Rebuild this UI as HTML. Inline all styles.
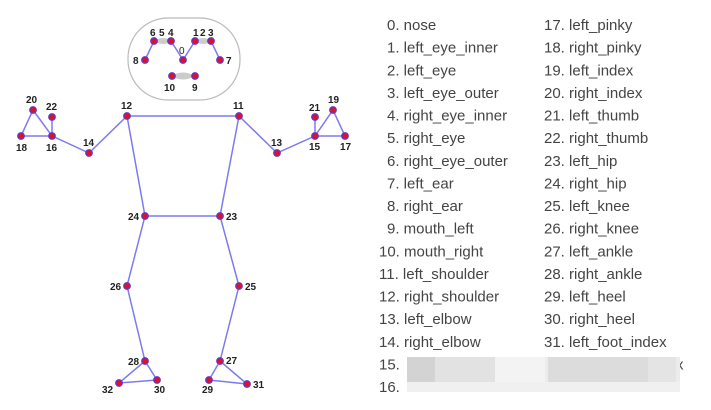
<!DOCTYPE html>
<html><head><style>
html,body{margin:0;padding:0;background:#fff;}
svg{display:block;}
text{font-family:"Liberation Sans",sans-serif;}
.n{font-size:10px;font-weight:bold;fill:#222;}
.l{font-size:15px;fill:#444;}
</style></head><body>
<svg width="711" height="410" viewBox="0 0 711 410" xmlns="http://www.w3.org/2000/svg">
<rect x="128" y="18" width="112" height="82" rx="40" ry="40" fill="#fff" stroke="#bbb" stroke-width="1.2"/>
<g stroke="#7b7bf0" stroke-width="1.5" fill="none">
<polyline points="145,60 154,41 171,41 183,60 195,41 211,41 220,60"/>
<line x1="172" y1="76" x2="195" y2="76"/>
<line x1="127" y1="116" x2="239" y2="116"/>
<polyline points="127,116 89,153 52,136 21,136 33,110 52,136 52,117"/>
<polyline points="239,116 277,153 315,136 345,136 333,110 315,136 315,117"/>
<polyline points="127,116 145,216 220,216 239,116"/>
<polyline points="145,216 127,286 145,361 157,380 119,383 145,361"/>
<polyline points="220,216 239,286 220,361 209,380 247,384 220,361"/>
</g>
<g fill="#ccc"><ellipse cx="163" cy="41" rx="7" ry="3"/><ellipse cx="203" cy="41" rx="7" ry="3"/><ellipse cx="183" cy="76" rx="9" ry="3.5"/></g>
<g fill="#e0102a" stroke="#5a3ad0" stroke-width="1.2">
<circle cx="154" cy="41" r="3.3"/><circle cx="171" cy="41" r="3.3"/><circle cx="195" cy="41" r="3.3"/><circle cx="211" cy="41" r="3.3"/>
<circle cx="183" cy="60" r="3.3"/><circle cx="145" cy="60" r="3.3"/><circle cx="220" cy="60" r="3.3"/>
<circle cx="172" cy="76" r="3.3"/><circle cx="195" cy="76" r="3.3"/>
<circle cx="127" cy="116" r="3.3"/><circle cx="239" cy="116" r="3.3"/>
<circle cx="89" cy="153" r="3.3"/><circle cx="277" cy="153" r="3.3"/>
<circle cx="52" cy="136" r="3.3"/><circle cx="21" cy="136" r="3.3"/><circle cx="33" cy="110" r="3.3"/><circle cx="52" cy="117" r="3.3"/>
<circle cx="315" cy="136" r="3.3"/><circle cx="345" cy="136" r="3.3"/><circle cx="333" cy="110" r="3.3"/><circle cx="315" cy="117" r="3.3"/>
<circle cx="145" cy="216" r="3.3"/><circle cx="220" cy="216" r="3.3"/>
<circle cx="127" cy="286" r="3.3"/><circle cx="239" cy="286" r="3.3"/>
<circle cx="145" cy="361" r="3.3"/><circle cx="220" cy="361" r="3.3"/>
<circle cx="157" cy="380" r="3.3"/><circle cx="119" cy="383" r="3.3"/>
<circle cx="209" cy="380" r="3.3"/><circle cx="247" cy="384" r="3.3"/>
</g>
<g class="n">
<text x="150" y="36">6</text><text x="159" y="36">5</text><text x="168" y="36">4</text>
<text x="193" y="36">1</text><text x="200" y="36">2</text><text x="208" y="36">3</text>
<text x="179" y="54" style="font-weight:normal">0</text>
<text x="133" y="64">8</text><text x="226" y="64">7</text>
<text x="164" y="91">10</text><text x="192" y="91">9</text>
<text x="121" y="109">12</text><text x="233" y="109">11</text>
<text x="83" y="146">14</text><text x="271" y="146">13</text>
<text x="26" y="103">20</text><text x="46" y="110">22</text>
<text x="16" y="151">18</text><text x="46" y="151">16</text>
<text x="309" y="111">21</text><text x="328" y="103">19</text>
<text x="309" y="150">15</text><text x="340" y="150">17</text>
<text x="128" y="220">24</text><text x="226" y="220">23</text>
<text x="110" y="290">26</text><text x="245" y="290">25</text>
<text x="128" y="365">28</text><text x="226" y="364">27</text>
<text x="102" y="393">32</text><text x="154" y="393">30</text>
<text x="202" y="393">29</text><text x="253" y="388">31</text>
</g>
<g class="l">
<text x="387" y="30">0. nose</text>
<text x="387" y="52.6">1. left_eye_inner</text>
<text x="387" y="75.3">2. left_eye</text>
<text x="387" y="97.9">3. left_eye_outer</text>
<text x="387" y="120.5">4. right_eye_inner</text>
<text x="387" y="143.1">5. right_eye</text>
<text x="387" y="165.8">6. right_eye_outer</text>
<text x="387" y="188.4">7. left_ear</text>
<text x="387" y="211">8. right_ear</text>
<text x="387" y="233.6">9. mouth_left</text>
<text x="379" y="256.3">10. mouth_right</text>
<text x="379" y="278.9">11. left_shoulder</text>
<text x="379" y="301.5">12. right_shoulder</text>
<text x="379" y="324.1">13. left_elbow</text>
<text x="379" y="346.8">14. right_elbow</text>
<text x="379" y="369.4">15.</text>
<text x="379" y="392">16.</text>
<text x="544" y="30">17. left_pinky</text>
<text x="544" y="52.6">18. right_pinky</text>
<text x="544" y="75.3">19. left_index</text>
<text x="544" y="97.9">20. right_index</text>
<text x="544" y="120.5">21. left_thumb</text>
<text x="544" y="143.1">22. right_thumb</text>
<text x="544" y="165.8">23. left_hip</text>
<text x="544" y="188.4">24. right_hip</text>
<text x="544" y="211">25. left_knee</text>
<text x="544" y="233.6">26. right_knee</text>
<text x="544" y="256.3">27. left_ankle</text>
<text x="544" y="278.9">28. right_ankle</text>
<text x="544" y="301.5">29. left_heel</text>
<text x="544" y="324.1">30. right_heel</text>
<text x="544" y="346.8">31. left_foot_index</text>
<text x="676" y="369.4">x</text>
</g>
<rect x="407" y="357" width="273" height="35" fill="#ececec"/>
<rect x="407" y="357" width="28" height="25" fill="#d3d3d3"/>
<rect x="435" y="357" width="60" height="25" fill="#e2e2e2"/>
<rect x="495" y="357" width="50" height="25" fill="#f3f3f3"/>
<rect x="548" y="357" width="100" height="25" fill="#dcdcdc"/>
<rect x="648" y="357" width="28" height="25" fill="#e4e4e4"/>
<rect x="407" y="382" width="273" height="10" fill="#f0f0f0"/>
</svg>
</body></html>
